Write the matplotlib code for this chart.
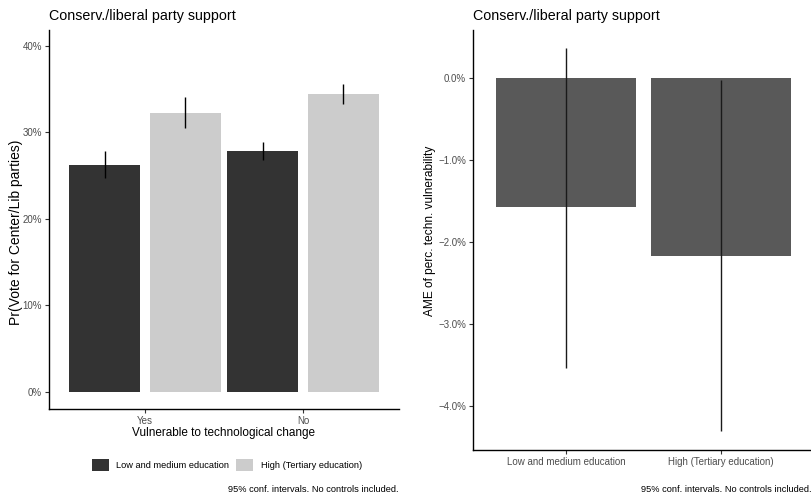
import numpy as np
import matplotlib
matplotlib.use('Agg')
import matplotlib.pyplot as plt
from matplotlib.patches import Patch
from matplotlib.ticker import FuncFormatter

plt.rcParams['font.family'] = ['Liberation Sans', 'DejaVu Sans']

# --- Daten: linkes Panel (vorhergesagte Wahrscheinlichkeiten in %) ---
vuln_labels = ['Yes', 'No']
edu_groups = ['Low and medium education', 'High (Tertiary education)']
pr_low = [26.2, 27.9]
pr_low_lo = [24.7, 26.8]
pr_low_hi = [27.9, 28.9]
pr_high = [32.3, 34.4]
pr_high_lo = [30.5, 33.3]
pr_high_hi = [34.1, 35.6]

# --- Daten: rechtes Panel (AME in %) ---
ame = [-1.57, -2.17]
ame_lo = [-3.54, -4.30]
ame_hi = [0.37, -0.03]

DARK = '#333333'
LIGHT = '#cccccc'
MID = '#595959'
TXT = '#4d4d4d'
caption = '95% conf. intervals. No controls included.'

fig = plt.figure(figsize=(8.12, 5.0), dpi=100)
W, H = 812, 500


def px_axes(x0, y0, x1, y1):
    # Achse über Pixelkoordinaten (oben links) platzieren
    return fig.add_axes([x0 / W, (H - y1) / H, (x1 - x0) / W, (y1 - y0) / H])


def style(ax):
    for s in ['top', 'right']:
        ax.spines[s].set_visible(False)
    for s in ['left', 'bottom']:
        ax.spines[s].set_linewidth(1.0)
        ax.spines[s].set_color('black')
    ax.tick_params(axis='both', length=3, width=0.8, color='#333333',
                   labelsize=7, labelcolor=TXT, pad=2)


# --- Linkes Panel ---
ax1 = px_axes(49, 30, 399, 409)
style(ax1)
x = np.arange(1, len(vuln_labels) + 1)
off = 0.256
bw = 0.45
ax1.bar(x - off, pr_low, width=bw, color=DARK)
ax1.bar(x + off, pr_high, width=bw, color=LIGHT)
ax1.vlines(x - off, pr_low_lo, pr_low_hi, color='black', linewidth=1.0)
ax1.vlines(x + off, pr_high_lo, pr_high_hi, color='black', linewidth=1.0)
ax1.set_xlim(0.392, 2.608)
ax1.set_ylim(-1.97, 41.85)
ax1.set_xticks(x)
ax1.set_xticklabels(vuln_labels)
ax1.set_yticks([0, 10, 20, 30, 40])
ax1.yaxis.set_major_formatter(FuncFormatter(lambda v, p: f'{v:.0f}%'))
ax1.set_xlabel('Vulnerable to technological change', fontsize=8.5, labelpad=1)
ax1.set_ylabel('Pr(Vote for Center/Lib parties)', fontsize=10, va='center')
ax1.yaxis.set_label_coords(-0.094, 0.467)
ax1.set_title('Conserv./liberal party support', fontsize=10.3, loc='left', pad=7)

handles = [Patch(facecolor=DARK, edgecolor='none'), Patch(facecolor=LIGHT, edgecolor='none')]
fig.legend(handles, edu_groups, loc='center', bbox_to_anchor=(227 / W, 1 - 465 / H),
           ncol=2, frameon=False, fontsize=6.7, handlelength=1.8, handleheight=1.7,
           columnspacing=0.75, handletextpad=0.85)
fig.text(399 / W, 1 - 490 / H, caption, ha='right', va='center', fontsize=6.7)

# --- Rechtes Panel ---
ax2 = px_axes(473, 30, 814, 450)
style(ax2)
x2 = np.arange(1, len(edu_groups) + 1)
ax2.bar(x2, ame, width=0.9, color=MID)
ax2.vlines(x2, ame_lo, ame_hi, color='#1a1a1a', linewidth=1.0)
ax2.set_xlim(0.4, 2.6)
ax2.set_ylim(-4.537, 0.585)
ax2.set_xticks(x2)
ax2.set_xticklabels(edu_groups)
ax2.set_yticks([0, -1, -2, -3, -4])
ax2.yaxis.set_major_formatter(FuncFormatter(lambda v, p: f'{v:.1f}%'.replace('-', '\u2212')))
ax2.set_ylabel('AME of perc. techn. vulnerability', fontsize=8.6, va='center')
ax2.yaxis.set_label_coords(-0.126, 0.521)
ax2.set_title('Conserv./liberal party support', fontsize=10.3, loc='left', pad=7)
fig.text(812 / W, 1 - 490 / H, caption, ha='right', va='center', fontsize=6.7)

fig.savefig('out.png', dpi=100)
